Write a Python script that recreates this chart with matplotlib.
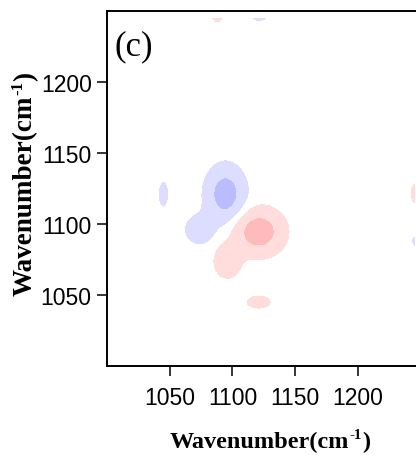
import numpy as np
import matplotlib
matplotlib.use('Agg')
import matplotlib.pyplot as plt
from matplotlib.transforms import offset_copy

# Lobes of the asynchronous 2D correlation map (centre x, centre y, width x, width y, amplitude).
# Red lobes are the antisymmetric mirror (x<->y, sign flipped) of these.
lobe_x = [1094.5, 1074.0, 1045.0, 1121.5, 1088.0]
lobe_y = [1121.0, 1096.0, 1121.0, 1250.0, 1250.0]
lobe_sx = [10.0, 8.5, 3.0, 6.0, 3.3]
lobe_sy = [12.4, 7.5, 6.5, 5.0, 5.0]
lobe_amp = [-1.0, -0.42, -0.4, -0.45, 0.45]

levels = [-10, -0.65, -0.15, 0.15, 0.65, 10]
fill_colors = ['#BBBBFF', '#DDDDFF', '#FFFFFF', '#FFDDDD', '#FFBBBB']

tick_vals = [1050, 1100, 1150, 1200]
label_main = 'Wavenumber(cm'
label_sup = '-1'
label_end = ')'
panel_label = '(c)'

W, H = 416, 456
fig = plt.figure(figsize=(W / 100, H / 100), dpi=100)
ax = fig.add_axes([107 / W, (H - 367) / H, 313.5 / W, 355 / H])

g = np.arange(1000, 1245.01, 0.5)
X, Y = np.meshgrid(g, g)
Z = np.zeros_like(X)
for cx, cy, sx, sy, a in zip(lobe_x, lobe_y, lobe_sx, lobe_sy, lobe_amp):
    Z += a * np.exp(-((X - cx) ** 2 / (2 * sx ** 2) + (Y - cy) ** 2 / (2 * sy ** 2)))
    Z -= a * np.exp(-((Y - cx) ** 2 / (2 * sx ** 2) + (X - cy) ** 2 / (2 * sy ** 2)))

ax.contourf(X, Y, Z, levels=levels, colors=fill_colors)

ax.set_xlim(1000, 1250)
ax.set_ylim(1000, 1250)
ax.set_xticks(tick_vals)
ax.set_yticks(tick_vals)
for s in ax.spines.values():
    s.set_linewidth(1.4)
ax.tick_params(direction='out', length=7, width=1.1, labelsize=16.5)
ax.tick_params(axis='x', pad=7.5)
ax.tick_params(axis='y', pad=4)
for lab in ax.get_xticklabels() + ax.get_yticklabels():
    lab.set_fontfamily('Liberation Sans')

renderer = fig.canvas.get_renderer()


def width_px(s, size):
    t = fig.text(0, 0, s, fontsize=size, fontweight='bold', family='Liberation Serif')
    w = t.get_window_extent(renderer).width
    t.remove()
    return w


def compound_label(cx, cy, size, rotation):
    sup_size = size * 0.62
    w1 = width_px(label_main, size)
    w2 = width_px(label_sup, sup_size)
    w3 = width_px(label_end, size)
    total = w1 + w2 + w3 + 1
    raise_px = size * 100 / 72 * 0.36
    base_off = size * 100 / 72 * 0.33
    pieces = [(label_main, size, 0, 0), (label_sup, sup_size, w1 + 0.5, raise_px),
              (label_end, size, w1 + w2 + 1, 0)]
    for s, fs, along, up in pieces:
        if rotation == 0:
            dx = -total / 2 + along
            dy = -base_off + up
        else:
            dx = base_off - up
            dy = -total / 2 + along
        tr = offset_copy(fig.transFigure, fig=fig, x=dx * 72 / 100, y=dy * 72 / 100, units='points')
        fig.text(cx / W, 1 - cy / H, s, transform=tr, fontsize=fs, fontweight='bold',
                 family='Liberation Serif', ha='left', va='baseline', rotation=rotation,
                 rotation_mode='anchor')


compound_label(270, 440, 17.5, 0)
compound_label(23, 184, 19.5, 90)

fig.text(114 / W, 1 - 47 / H, panel_label, ha='left', va='center',
         fontsize=25, family='Liberation Serif')

fig.savefig('out.png', dpi=100)
